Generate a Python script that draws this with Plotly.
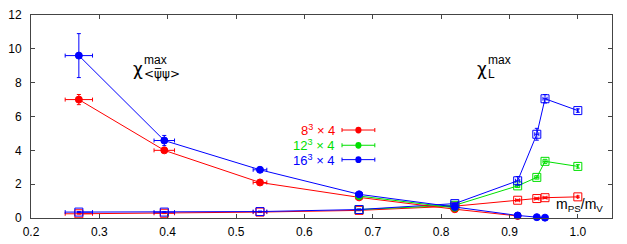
import plotly.graph_objects as go

# m_PS/m_V values
mx = [0.27, 0.395, 0.535, 0.68, 0.82, 0.912, 0.94, 0.952, 1.0]
mx_err = [0.02, 0.015, 0.01, 0.005, 0.004, 0.003, 0.003, 0.003, 0.0]

# chiral susceptibility maxima (filled circles)
chi_pbp_8_x = [0.27, 0.395, 0.535, 0.68, 0.82, 0.912]
chi_pbp_8 = [7.0, 4.0, 2.1, 1.22, 0.52, 0.12]
chi_pbp_8_err = [0.3, 0.12, 0.1, 0.05, 0.03, 0.02]
chi_pbp_12_x = [0.68, 0.82]
chi_pbp_12 = [1.3, 0.6]
chi_pbp_12_err = [0.05, 0.03]
chi_pbp_16_x = [0.27, 0.395, 0.535, 0.68, 0.82, 0.912, 0.94, 0.952]
chi_pbp_16 = [9.6, 4.58, 2.85, 1.4, 0.65, 0.15, 0.05, 0.02]
chi_pbp_16_err = [1.3, 0.3, 0.15, 0.06, 0.04, 0.02, 0.02, 0.02]

# Polyakov loop susceptibility maxima (open squares)
chi_L_8_x = [0.27, 0.395, 0.535, 0.68, 0.82, 0.912, 0.94, 0.952, 1.0]
chi_L_8 = [0.25, 0.28, 0.35, 0.45, 0.7, 1.05, 1.15, 1.2, 1.25]
chi_L_8_err = [0.02, 0.02, 0.02, 0.02, 0.03, 0.05, 0.05, 0.05, 0.05]
chi_L_12_x = [0.68, 0.82, 0.912, 0.94, 0.952, 1.0]
chi_L_12 = [0.5, 0.75, 1.9, 2.4, 3.35, 3.05]
chi_L_12_err = [0.03, 0.04, 0.1, 0.1, 0.12, 0.1]
chi_L_16_x = [0.27, 0.395, 0.535, 0.68, 0.82, 0.912, 0.94, 0.952, 1.0]
chi_L_16 = [0.35, 0.35, 0.38, 0.5, 0.85, 2.2, 4.95, 7.05, 6.35]
chi_L_16_err = [0.03, 0.03, 0.03, 0.03, 0.05, 0.25, 0.35, 0.25, 0.1]

RED, GREEN, BLUE = "#ff0000", "#00e000", "#0000ff"


def xerr_for(xs):
    return [mx_err[mx.index(v)] for v in xs]


fig = go.Figure()


def add(xs, ys, es, color, symbol):
    fig.add_trace(go.Scatter(
        x=xs, y=ys, mode="lines+markers",
        line=dict(color=color, width=1),
        marker=dict(symbol=symbol, color=color, size=7 if symbol == "circle" else 8,
                    line=dict(color=color, width=1)),
        error_y=dict(type="data", array=es, color=color, thickness=1, width=2),
        error_x=dict(type="data", array=xerr_for(xs), color=color, thickness=1, width=2),
        showlegend=False, cliponaxis=False, hoverinfo="skip"))


add(chi_L_8_x, chi_L_8, chi_L_8_err, RED, "square-open")
add(chi_L_12_x, chi_L_12, chi_L_12_err, GREEN, "square-open")
add(chi_L_16_x, chi_L_16, chi_L_16_err, BLUE, "square-open")
add(chi_pbp_8_x, chi_pbp_8, chi_pbp_8_err, RED, "circle")
add(chi_pbp_12_x, chi_pbp_12, chi_pbp_12_err, GREEN, "circle")
add(chi_pbp_16_x, chi_pbp_16, chi_pbp_16_err, BLUE, "circle")

font = "Liberation Sans, Arial, Helvetica, sans-serif"
greek = "DejaVu Sans, sans-serif"

# legend (gnuplot-style: text then key)
legend_labels = ["8<sup>3</sup> × 4", "12<sup>3</sup> × 4", "16<sup>3</sup> × 4"]
legend_colors = [RED, GREEN, BLUE]
legend_y = [5.2, 4.3, 3.45]
for lab, col, ly in zip(legend_labels, legend_colors, legend_y):
    fig.add_annotation(x=0.648, y=ly, xref="x", yref="y", text=lab, showarrow=False,
                       xanchor="right", yanchor="middle",
                       font=dict(color=col, size=13, family=font))
    fig.add_shape(type="line", x0=0.655, x1=0.703, y0=ly, y1=ly, xref="x", yref="y",
                  line=dict(color=col, width=1))
    for xe in (0.655, 0.703):
        fig.add_shape(type="line", x0=xe, x1=xe, y0=ly - 0.12, y1=ly + 0.12,
                      xref="x", yref="y", line=dict(color=col, width=1))
    fig.add_shape(type="circle", x0=0.6745, x1=0.6835, y0=ly - 0.2, y1=ly + 0.2,
                  xref="x", yref="y", fillcolor=col, line=dict(color=col, width=0))


def label(x, y, txt, size, fam=font):
    fig.add_annotation(x=x, y=y, xref="x", yref="y", showarrow=False, text=txt,
                       xanchor="left", yanchor="middle",
                       font=dict(size=size, family=fam, color="black"))


# chi^max_<psibar psi>
label(0.347, 8.8, "χ", 17, greek)
label(0.363, 9.35, "max", 12)
label(0.363, 8.5, "&lt;ψ̅ψ&gt;", 12, greek)
# chi^max_L
label(0.849, 8.8, "χ", 17, greek)
label(0.865, 9.35, "max", 12)
label(0.865, 8.5, "L", 12)

fig.add_annotation(x=1.04, y=0.75, xref="x", yref="y", showarrow=False,
                   text="m<sub>PS</sub>/m<sub>V</sub>", xanchor="right",
                   font=dict(size=14, family=font, color="black"))

axis_common = dict(showgrid=False, zeroline=False, showline=True, mirror="ticks",
                   linecolor="#444", linewidth=1, ticks="inside", ticklen=4,
                   tickcolor="#444", automargin=False,
                   tickfont=dict(size=12, family=font, color="black"))
fig.update_xaxes(range=[0.2, 1.05], tickvals=[0.2, 0.3, 0.4, 0.5, 0.6, 0.7, 0.8, 0.9, 1.0],
                 ticktext=["0.2", "0.3", "0.4", "0.5", "0.6", "0.7", "0.8", "0.9", "1.0"],
                 ticklabelstandoff=3, **axis_common)
fig.update_yaxes(range=[0, 12], tickvals=[0, 2, 4, 6, 8, 10, 12],
                 ticklabelstandoff=6, **axis_common)

fig.update_layout(width=627, height=244, margin=dict(l=31, r=15, t=15, b=26),
                  plot_bgcolor="white", paper_bgcolor="white",
                  font=dict(family=font))
fig.write_html("out.html", config={"displayModeBar": False},
               post_script="document.body.style.margin='0';document.body.style.overflow='hidden';")
